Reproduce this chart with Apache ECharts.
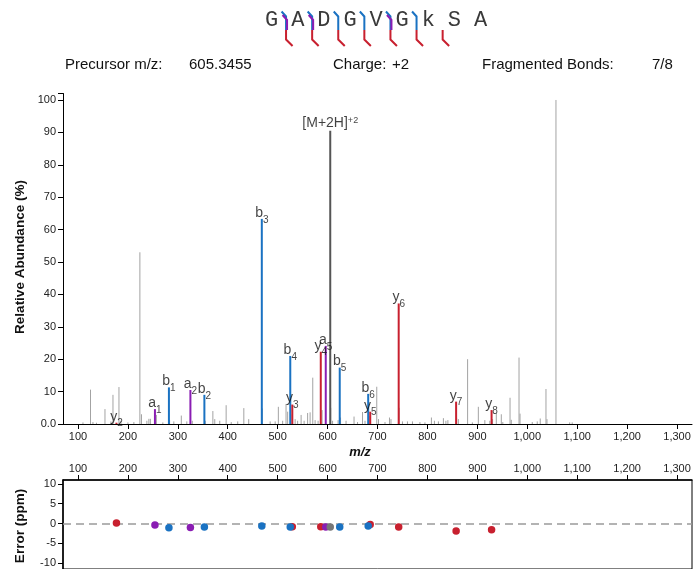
<!DOCTYPE html>
<html><head><meta charset="utf-8">
<script src="https://cdn.jsdelivr.net/npm/echarts@6/dist/echarts.min.js"></script>
<style>html,body{margin:0;padding:0;background:#fff}#c{width:694px;height:569px}</style>
</head><body><div id="c"></div>
<script>
// ---- data ----
const sequence = ['G','A','D','G','V','G','k','S','A'];
const bBonds = [1,2,3,4,5,6];
const aBonds = [1,2,5];
const yBonds = [1,2,3,4,5,6,7];

const bLabels = ['b1','b2','b3','b4','b5','b6'];
const bMz     = [282.181, 353.218, 468.245, 525.267, 624.335, 681.357];
const bInt    = [11.3, 9.0, 63.3, 21.0, 17.4, 9.3];
const bErr    = [-1.1, -0.9, -0.6, -0.9, -0.9, -0.6];

const aLabels = ['a1','a2','a5'];
const aMz     = [254.186, 325.223, 596.340];
const aInt    = [4.6, 10.5, 24.1];
const aErr    = [-0.4, -1.0, -0.9];

const yLabels = ['y2','y3','y4','y5','y6','y7','y8'];
const yMz     = [177.087, 529.334, 586.356, 685.424, 742.446, 857.473, 928.510];
const yInt    = [0.4, 6.0, 22.3, 3.8, 37.2, 6.9, 4.3];
const yErr    = [0.1, -0.8, -0.8, -0.25, -0.9, -1.9, -1.6];

const precLabel = '[M+2H]+2';
const precMz  = [605.3455];
const precInt = [90.5];
const precErr = [-0.9];

const otherMz  = [110,125.1,130,137,154.1,166,170.1,182.1,186,200,212,224,227.2,238,242,245,257,270,283.5,292,307,318,329,355,370.2,374,384,396.8,407,420,432.2,442,469.2,485,495,501.4,510,516.8,520,526.3,535,540,547,553,560,565,570.3,575,581,589,606.3,610,621,626,637,653,660,670,675,683,698.5,702,715,724,727,743.4,750,760,770,785,795,808,814,822,832,837,841,858.5,862,880.5,890,902,915,925,930.5,938,948,951,965.5,968,983.5,985.5,1010,1020,1026,1037.5,1039.5,1057.5,1085,1090];
const otherInt = [0.5,10.6,0.6,0.4,4.6,0.8,9.0,11.4,1.0,0.5,0.6,53.0,3.0,1.0,1.6,1.6,2.8,0.5,1.2,0.8,2.6,0.8,1.0,1.0,4.0,1.5,1.0,5.8,0.6,0.8,4.9,1.5,4.8,0.8,0.8,5.3,1.0,6.2,3.8,3.0,1.5,1.0,2.8,1.0,3.4,3.6,14.3,1.2,1.0,4.3,5.0,1.0,1.2,2.0,1.0,2.3,0.6,3.7,1.0,2.5,11.5,1.5,0.6,2.0,1.5,5.0,0.8,0.8,0.8,0.6,0.5,2.0,1.0,0.8,1.8,1.0,1.2,1.8,1.5,20.0,0.5,5.3,1.2,1.0,1.5,3.4,3.0,0.6,8.1,1.3,20.5,3.2,0.6,0.8,1.7,10.8,1.5,100,0.5,0.5];

const xTicks   = [100,200,300,400,500,600,700,800,900,1000,1100,1200,1300];
const yTicks   = [0,10,20,30,40,50,60,70,80,90,100];
const errTicks = [-10,-5,0,5,10];

// ---- style ----
const FONT = '"Liberation Sans", Arial, sans-serif';
const BLUE = '#1a72c2', RED = '#c8202f', PURPLE = '#8a1db3', GRAY = '#a3a3a3', DARK = '#555555', TXT = '#111';

function stick(color, width) {
  return function (params, api) {
    const top = api.coord([api.value(0), api.value(1)]);
    const base = api.coord([api.value(0), 0]);
    return { type: 'line', shape: { x1: top[0], y1: top[1], x2: base[0], y2: base[1] },
             style: { stroke: color, lineWidth: width } };
  };
}
function pairs(mz, v) { return mz.map((m, i) => [m, v[i]]); }
function labelled(mz, v, lab) { return mz.map((m, i) => [m, v[i], lab[i]]); }
function ionRich(s) {
  if (s.startsWith('[')) return '{n|[M+2H]}{p|+2}';
  return '{n|' + s[0] + '}{s|' + s.slice(1) + '}';
}
const rich = {
  n: { fontSize: 14, fontFamily: FONT, color: TXT, lineHeight: 17, verticalAlign: 'top' },
  s: { fontSize: 10, fontFamily: FONT, color: TXT, lineHeight: 19, verticalAlign: 'bottom' },
  p: { fontSize: 9, fontFamily: FONT, color: TXT, lineHeight: 8, verticalAlign: 'top' }
};
function labelSeries(data, dist) {
  return { type: 'scatter', xAxisIndex: 0, yAxisIndex: 0, data: data, symbolSize: 1,
    itemStyle: { color: 'rgba(0,0,0,0)' }, silent: true, z: 5,
    label: { show: true, position: 'top', distance: dist, formatter: p => ionRich(p.data[2]), rich: rich } };
}
function stickSeries(data, color, width, z) {
  return { type: 'custom', xAxisIndex: 0, yAxisIndex: 0, data: data, renderItem: stick(color, width),
    encode: { x: 0, y: 1 }, z: z, silent: true };
}
function errSeries(mz, err, color) {
  return { type: 'scatter', xAxisIndex: 1, yAxisIndex: 1, data: pairs(mz, err), symbolSize: 7.5,
    itemStyle: { color: color, opacity: 1 }, z: 5 };
}

// ---- sequence graphic ----
const seqX0 = 271.7, seqPitch = 26.1, seqY = 20.5;
const graphics = [];
sequence.forEach((ch, i) => {
  graphics.push({ type: 'text', x: seqX0 + i * seqPitch, y: seqY,
    style: { text: ch, font: '22px "Liberation Mono", "DejaVu Sans Mono", monospace', fill: '#3a3a3a',
      align: 'center', verticalAlign: 'middle' } });
});
function bondX(k) { return seqX0 + (k - 0.5) * seqPitch + 1.3; }
bBonds.forEach(k => { const x = bondX(k);
  graphics.push({ type: 'polyline', shape: { points: [[x - 4.5, 11.5], [x, 16.5], [x, 30]] },
    style: { stroke: BLUE, lineWidth: 2, fill: null } }); });
aBonds.forEach(k => { const x = bondX(k) + 1;
  graphics.push({ type: 'polyline', shape: { points: [[x - 4.5, 15], [x, 20], [x, 30]] },
    style: { stroke: PURPLE, lineWidth: 2, fill: null } }); });
yBonds.forEach(k => { const x = bondX(k);
  graphics.push({ type: 'polyline', shape: { points: [[x, 30], [x, 39.5], [x + 6.5, 46]] },
    style: { stroke: RED, lineWidth: 2, fill: null } }); });

// header
const hdr = [['Precursor m/z:', 65], ['605.3455', 189], ['Charge:', 333], ['+2', 392], ['Fragmented Bonds:', 482], ['7/8', 652]];
hdr.forEach(h => graphics.push({ type: 'text', x: h[1], y: 65,
  style: { text: h[0], font: '15px ' + FONT, fill: TXT, align: 'left', verticalAlign: 'middle' } }));
// axis titles
graphics.push({ type: 'text', x: 20, y: 257, rotation: Math.PI / 2,
  style: { text: 'Relative Abundance (%)', font: 'bold 13.5px ' + FONT, fill: TXT, align: 'center', verticalAlign: 'middle' } });
graphics.push({ type: 'text', x: 20, y: 526, rotation: Math.PI / 2,
  style: { text: 'Error (ppm)', font: 'bold 13.5px ' + FONT, fill: TXT, align: 'center', verticalAlign: 'middle' } });
graphics.push({ type: 'text', x: 360, y: 452,
  style: { text: 'm/z', font: 'italic bold 13px ' + FONT, fill: TXT, align: 'center', verticalAlign: 'middle' } });

const fmtTh = v => v.toLocaleString('en-US');

const option = {
  animation: false,
  backgroundColor: '#fff',
  graphic: graphics,
  grid: [
    { left: 63, right: 2, top: 93.5, bottom: 145 },
    { left: 63, right: 2, top: 480, height: 92, show: true, borderColor: '#000', borderWidth: 1, backgroundColor: 'transparent' }
  ],
  xAxis: [
    { type: 'value', gridIndex: 0, min: 70, max: 1330,
      axisLine: { show: true, onZero: false, lineStyle: { color: '#000', width: 1 } },
      axisTick: { show: true, length: 5, customValues: xTicks, lineStyle: { color: '#000' } },
      axisLabel: { customValues: xTicks, formatter: fmtTh, fontSize: 11, fontFamily: FONT, color: '#222', margin: 7 },
      splitLine: { show: false } },
    { type: 'value', gridIndex: 1, position: 'top', min: 70, max: 1330,
      axisLine: { show: true, onZero: false, lineStyle: { color: '#000', width: 1.5 } },
      axisTick: { show: true, length: 5, customValues: xTicks, lineStyle: { color: '#000' } },
      axisLabel: { customValues: xTicks, formatter: fmtTh, fontSize: 11, fontFamily: FONT, color: '#222', margin: 6 },
      splitLine: { show: false } }
  ],
  yAxis: [
    { type: 'value', gridIndex: 0, min: 0, max: 102,
      axisLine: { show: true, lineStyle: { color: '#000', width: 1 } },
      axisTick: { show: true, length: 5, customValues: yTicks.concat([102]), lineStyle: { color: '#000' } },
      axisLabel: { customValues: yTicks, formatter: v => v === 0 ? '0.0' : String(v), fontSize: 11, fontFamily: FONT, color: '#222', margin: 7 },
      splitLine: { show: false } },
    { type: 'value', gridIndex: 1, min: -11.5, max: 11,
      axisLine: { show: true, lineStyle: { color: '#000', width: 1.5 } },
      axisTick: { show: true, length: 5, customValues: errTicks, lineStyle: { color: '#000' } },
      axisLabel: { customValues: errTicks, fontSize: 11, fontFamily: FONT, color: '#222', margin: 7 },
      splitLine: { show: false } }
  ],
  series: [
    stickSeries(pairs(otherMz, otherInt), GRAY, 1, 1),
    stickSeries(pairs(precMz, precInt), DARK, 2, 2),
    stickSeries(pairs(bMz, bInt), BLUE, 2, 3),
    stickSeries(pairs(aMz, aInt), PURPLE, 2, 3),
    stickSeries(pairs(yMz, yInt), RED, 2, 3),
    labelSeries(labelled(bMz, bInt, bLabels), -6.5),
    labelSeries(labelled(aMz, aInt, aLabels), -6.5),
    labelSeries(labelled(yMz, yInt, yLabels), -6.5),
    labelSeries(labelled(precMz, precInt, [precLabel]), -3),
    { type: 'line', xAxisIndex: 1, yAxisIndex: 1, data: [], silent: true,
      markLine: { silent: true, symbol: 'none', label: { show: false },
        lineStyle: { color: '#9a9a9a', type: [8, 5], width: 1.5 }, data: [{ yAxis: 0 }] } },
    errSeries(yMz, yErr, RED),
    errSeries(bMz, bErr, BLUE),
    errSeries(aMz, aErr, PURPLE),
    errSeries(precMz, precErr, '#777777')
  ]
};
const chart = echarts.init(document.getElementById('c'), null, { renderer: 'canvas' });
chart.setOption(option);
</script></body></html>
